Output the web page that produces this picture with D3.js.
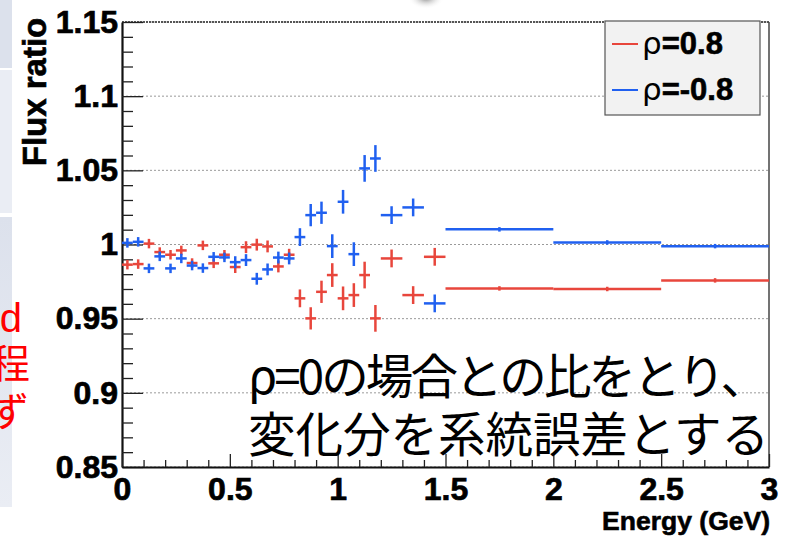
<!DOCTYPE html>
<html><head><meta charset="utf-8">
<script src="https://cdn.jsdelivr.net/npm/d3@7"></script>
<style>html,body{margin:0;padding:0;background:#fff;overflow:hidden}</style>
</head><body>
<svg id="c" width="791" height="544"></svg>
<script>
// ---- data ----
const energy = [0.025,0.075,0.125,0.175,0.225,0.275,0.325,0.375,0.425,0.475,
  0.525,0.575,0.625,0.675,0.725,0.775,0.825,0.875,0.925,0.975,
  1.025,1.075,1.125,1.175,1.25,1.35,1.45,1.75,2.25,2.75];
const halfWidth = [0.025,0.025,0.025,0.025,0.025,0.025,0.025,0.025,0.025,0.025,
  0.025,0.025,0.025,0.025,0.025,0.025,0.025,0.025,0.025,0.025,
  0.025,0.025,0.025,0.025,0.05,0.05,0.05,0.25,0.25,0.25];
const ratioRhoPos = [0.9864,0.9868,1.0006,0.9949,0.9931,0.9960,0.9875,0.9994,0.9873,0.9931,
  0.9848,0.9982,0.9999,0.9987,0.9852,0.9931,0.9637,0.9502,0.9681,0.9794,
  0.9637,0.9659,0.9794,0.9502,0.9906,0.9659,0.9917,0.9704,0.9700,0.9758];
const ratioRhoNeg = [1.0011,1.0018,0.9839,0.9920,0.9839,0.9906,0.9858,0.9841,0.9917,0.9913,
  0.9881,0.9895,0.9769,0.9832,0.9912,0.9906,1.0050,1.0198,1.0214,0.9989,
  1.0288,0.9935,1.0513,1.0580,1.0198,1.0250,0.9603,1.0102,1.0014,0.9989];
const ratioErr = [0.0032,0.0032,0.0032,0.0032,0.0032,0.0032,0.0032,0.0032,0.0032,0.0032,
  0.004,0.004,0.004,0.004,0.004,0.004,0.006,0.0075,0.0075,0.008,
  0.008,0.008,0.009,0.009,0.006,0.006,0.006,0.0015,0.0015,0.0015];
const xTicks = [0,0.5,1,1.5,2,2.5,3];
const xTickLabels = ["0","0.5","1","1.5","2","2.5","3"];
const yTicks = [0.85,0.9,0.95,1,1.05,1.1,1.15];
const yTickLabels = ["0.85","0.9","0.95","1","1.05","1.1","1.15"];
const seriesNames = ["=0.8","=-0.8"];
const noteLines = ["ρ=0の場合との比をとり、","変化分を系統誤差とする"];
const sideChars = ["d","程","ず"];

// ---- drawing ----
const svg = d3.select("#c");
const W = 791, H = 544;
const L = 122, R = 769, T = 22, B = 467;
const x = d3.scaleLinear().domain([0,3]).range([L,R]);
const y = d3.scaleLinear().domain([0.85,1.15]).range([B,T]);
const red = "#e8463c", blue = "#2060f0";

svg.append("rect").attr("width",W).attr("height",H).attr("fill","#fff");

// slide remnants at left
const defs = svg.append("defs");
const g1 = defs.append("linearGradient").attr("id","pg").attr("x1",0).attr("y1",0).attr("x2",0).attr("y2",1);
g1.append("stop").attr("offset","0%").attr("stop-color","#dce1ec");
g1.append("stop").attr("offset","100%").attr("stop-color","#eaedf4");
const rg = defs.append("radialGradient").attr("id","sh");
rg.append("stop").attr("offset","0%").attr("stop-color","#8a8a8a");
rg.append("stop").attr("offset","100%").attr("stop-color","#ffffff").attr("stop-opacity",0);
svg.append("rect").attr("x",0).attr("y",0).attr("width",12).attr("height",68).attr("fill","#dce1ec");
svg.append("rect").attr("x",0).attr("y",70).attr("width",12).attr("height",143).attr("fill","#eaedf4");
svg.append("rect").attr("x",0).attr("y",217).attr("width",12).attr("height",290).attr("fill","url(#pg)");
svg.append("ellipse").attr("cx",426).attr("cy",-2).attr("rx",18).attr("ry",11).attr("fill","url(#sh)");
const sideY = [332, 378, 426];
const sideX = [22, 30, 29];
const sideFont = ["'Liberation Sans',Arial,sans-serif","'Noto Sans CJK JP',sans-serif","'Noto Sans CJK JP',sans-serif"];
svg.selectAll("text.side").data(sideChars).join("text").attr("class","side")
  .attr("x",(d,i)=>sideX[i]).attr("y",(d,i)=>sideY[i]).attr("text-anchor","end")
  .attr("font-family",(d,i)=>sideFont[i]).attr("font-size",(d,i)=>i===0?40:40)
  .attr("fill","#ff0000").text(d=>d);

// grid
svg.append("g").selectAll("line").data(yTicks).join("line")
  .attr("x1",L).attr("x2",R).attr("y1",d=>y(d)).attr("y2",d=>y(d))
  .attr("stroke","#9a9a9a").attr("stroke-width",1).attr("stroke-dasharray","2,2");

// frame
svg.append("line").attr("x1",L).attr("x2",R).attr("y1",T).attr("y2",T)
  .attr("stroke","#555").attr("stroke-width",2).attr("stroke-dasharray","2,1");
svg.append("line").attr("x1",R).attr("x2",R).attr("y1",T).attr("y2",B)
  .attr("stroke","#444").attr("stroke-width",1.5);

// axes
const fontAx = "'Liberation Sans',Arial,Helvetica,sans-serif";
const yMinor = d3.range(0.85,1.1501,0.01).filter(v=>Math.abs(Math.round(v*20)-v*20)>1e-6);
const xMinor = d3.range(0,3.0001,0.1).filter(v=>Math.abs(Math.round(v*2)-v*2)>1e-6);

const yAx = svg.append("g").attr("transform",`translate(${L},0)`)
  .call(d3.axisLeft(y).tickValues(yTicks).tickSizeInner(-21).tickSizeOuter(0).tickPadding(4)
    .tickFormat((d,i)=>yTickLabels[i]));
svg.append("g").attr("transform",`translate(${L},0)`)
  .call(d3.axisLeft(y).tickValues(yMinor).tickSizeInner(-11).tickSizeOuter(0).tickFormat(""))
  .call(g=>g.select(".domain").remove());
const xAx = svg.append("g").attr("transform",`translate(0,${B})`)
  .call(d3.axisBottom(x).tickValues(xTicks).tickSizeInner(-13).tickSizeOuter(0).tickPadding(10)
    .tickFormat((d,i)=>xTickLabels[i]));
svg.append("g").attr("transform",`translate(0,${B})`)
  .call(d3.axisBottom(x).tickValues(xMinor).tickSizeInner(-7).tickSizeOuter(0).tickFormat(""))
  .call(g=>g.select(".domain").remove());
svg.selectAll(".tick line").attr("stroke","#222").attr("stroke-width",1.3);
svg.selectAll(".domain").attr("stroke","#111").attr("stroke-width",2.2);
[yAx,xAx].forEach(a=>a.selectAll("text").attr("font-family",fontAx).attr("font-weight","bold")
  .attr("font-size",32).attr("fill","#000").attr("stroke","#000").attr("stroke-width",0.7));

// axis titles
svg.append("text").attr("x",R+1).attr("y",530).attr("text-anchor","end")
  .attr("font-family",fontAx).attr("font-weight","bold").attr("font-size",26.5)
  .attr("stroke","#000").attr("stroke-width",0.6).text("Energy (GeV)");
svg.append("text").attr("transform","translate(46,92) rotate(-90)").attr("text-anchor","middle")
  .attr("font-family",fontAx).attr("font-weight","bold").attr("font-size",33)
  .attr("stroke","#000").attr("stroke-width",0.6).text("Flux ratio");

// series
function drawSeries(vals, color){
  const g = svg.append("g").attr("stroke",color).attr("stroke-width",2.5);
  const pts = energy.map((e,i)=>({e, hw:halfWidth[i], v:vals[i], err:ratioErr[i]}));
  g.selectAll("line.h").data(pts).join("line").attr("class","h")
    .attr("x1",d=>x(d.e-d.hw)).attr("x2",d=>x(d.e+d.hw)).attr("y1",d=>y(d.v)).attr("y2",d=>y(d.v));
  g.selectAll("line.v").data(pts).join("line").attr("class","v")
    .attr("x1",d=>x(d.e)).attr("x2",d=>x(d.e)).attr("y1",d=>y(d.v-d.err)).attr("y2",d=>y(d.v+d.err));
}
drawSeries(ratioRhoPos, red);
drawSeries(ratioRhoNeg, blue);

// legend
const lg = svg.append("g");
lg.append("rect").attr("x",605).attr("y",21).attr("width",155).attr("height",94)
  .attr("fill","#f2f2f2").attr("stroke","#555").attr("stroke-width",1.2);
const legY = [44, 90];
[red,blue].forEach((c,i)=>{
  lg.append("line").attr("x1",612).attr("x2",638).attr("y1",legY[i]).attr("y2",legY[i])
    .attr("stroke",c).attr("stroke-width",2);
  const t = lg.append("text").attr("x",642).attr("y",legY[i]+10)
    .attr("font-family",fontAx).attr("font-size",31).attr("fill","#000");
  t.append("tspan").attr("font-weight","normal").attr("font-family","'DejaVu Sans',sans-serif").text("ρ");
  t.append("tspan").attr("font-weight","bold").attr("stroke","#000").attr("stroke-width",0.6).text(seriesNames[i]);
});

// note text
const noteY = [394, 452];
const noteLen = [520, null];
svg.selectAll("text.note").data(noteLines).join("text").attr("class","note")
  .attr("x",248).attr("y",(d,i)=>noteY[i])
  .attr("font-family","'Noto Sans CJK JP',sans-serif").attr("font-size",47.5).attr("fill","#000")
  .each(function(d,i){ if(noteLen[i]) d3.select(this).attr("textLength",noteLen[i]).attr("lengthAdjust","spacing"); })
  .text(d=>d);
</script>
</body></html>
